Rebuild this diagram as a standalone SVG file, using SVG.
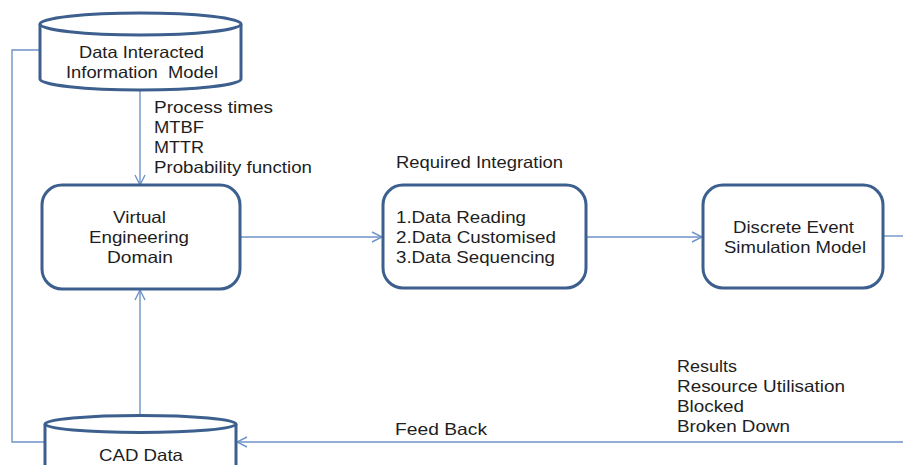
<svg xmlns="http://www.w3.org/2000/svg" width="903" height="465" viewBox="0 0 903 465">
  <style>
    .node { fill: #ffffff; stroke: #3c5f8e; stroke-width: 3; }
    .conn { fill: none; stroke: #6f93c8; stroke-width: 1.4; }
    .lbl { font-family: "Liberation Sans", Arial, sans-serif; font-size: 16.5px; fill: #1e1e1e; }
    .mid { text-anchor: middle; }
  </style>
  <defs>
    <marker id="arrow" viewBox="0 0 12 12" refX="11" refY="6" markerWidth="12" markerHeight="12" markerUnits="userSpaceOnUse" orient="auto">
      <path d="M1,1 L11,6 L1,11" fill="none" stroke="#6f93c8" stroke-width="1.4"/>
    </marker>
  </defs>

  <rect width="903" height="465" fill="#ffffff"/>

  <!-- connectors -->
  <g id="connectors">
    <path class="conn" d="M40,50 H12 V442 H46"/>
    <path class="conn" d="M140,91 V185" marker-end="url(#arrow)"/>
    <path class="conn" d="M240,237 H382" marker-end="url(#arrow)"/>
    <path class="conn" d="M587,237 H702" marker-end="url(#arrow)"/>
    <path class="conn" d="M883,236 H903"/>
    <path class="conn" d="M903,442 H237" marker-end="url(#arrow)"/>
    <path class="conn" d="M140,415 V290" marker-end="url(#arrow)"/>
  </g>

  <!-- data interacted information model (cylinder) -->
  <g id="info-model">
    <path class="node" d="M40,24 V79 A100,11 0 0 0 241,79 V24"/>
    <ellipse class="node" cx="140.5" cy="24" rx="100.5" ry="11"/>
    <text class="lbl mid" x="141.5" y="58" textLength="125" lengthAdjust="spacingAndGlyphs">Data Interacted</text>
    <text class="lbl mid" x="142" y="78" textLength="152" lengthAdjust="spacingAndGlyphs" xml:space="preserve">Information  Model</text>
  </g>

  <!-- parameters passed down -->
  <g id="params">
    <text class="lbl" x="154" y="113" textLength="119" lengthAdjust="spacingAndGlyphs">Process times</text>
    <text class="lbl" x="154" y="133" textLength="50" lengthAdjust="spacingAndGlyphs">MTBF</text>
    <text class="lbl" x="154" y="153" textLength="50" lengthAdjust="spacingAndGlyphs">MTTR</text>
    <text class="lbl" x="154" y="173" textLength="158" lengthAdjust="spacingAndGlyphs">Probability function</text>
  </g>

  <!-- virtual engineering domain -->
  <g id="ved">
    <rect class="node" x="42" y="185" width="198" height="104" rx="20" ry="20"/>
    <text class="lbl mid" x="139.5" y="223" textLength="53" lengthAdjust="spacingAndGlyphs">Virtual</text>
    <text class="lbl mid" x="139" y="243" textLength="100" lengthAdjust="spacingAndGlyphs">Engineering</text>
    <text class="lbl mid" x="140" y="263" textLength="66" lengthAdjust="spacingAndGlyphs">Domain</text>
  </g>

  <!-- required integration -->
  <g id="integration">
    <text class="lbl" x="396" y="168" textLength="167" lengthAdjust="spacingAndGlyphs">Required Integration</text>
    <rect class="node" x="383" y="185" width="203" height="103" rx="20" ry="20"/>
    <text class="lbl" x="396" y="223" textLength="130" lengthAdjust="spacingAndGlyphs">1.Data Reading</text>
    <text class="lbl" x="396" y="243" textLength="160" lengthAdjust="spacingAndGlyphs">2.Data Customised</text>
    <text class="lbl" x="396" y="263" textLength="159" lengthAdjust="spacingAndGlyphs">3.Data Sequencing</text>
  </g>

  <!-- discrete event simulation model -->
  <g id="des">
    <rect class="node" x="703" y="185" width="180" height="103" rx="20" ry="20"/>
    <text class="lbl mid" x="793.5" y="233" textLength="121" lengthAdjust="spacingAndGlyphs">Discrete Event</text>
    <text class="lbl mid" x="795" y="253" textLength="142" lengthAdjust="spacingAndGlyphs">Simulation Model</text>
  </g>

  <!-- results fed back -->
  <g id="results">
    <text class="lbl" x="677" y="372" textLength="60" lengthAdjust="spacingAndGlyphs">Results</text>
    <text class="lbl" x="677" y="392" textLength="168" lengthAdjust="spacingAndGlyphs">Resource Utilisation</text>
    <text class="lbl" x="677" y="412" textLength="67" lengthAdjust="spacingAndGlyphs">Blocked</text>
    <text class="lbl" x="677" y="432" textLength="113" lengthAdjust="spacingAndGlyphs">Broken Down</text>
    <text class="lbl" x="395" y="435" textLength="92" lengthAdjust="spacingAndGlyphs">Feed Back</text>
  </g>

  <!-- CAD data (cylinder, cut off at the bottom) -->
  <g id="cad-data">
    <path class="node" d="M45,424 V475 H236 V424"/>
    <ellipse class="node" cx="140.5" cy="424" rx="95.5" ry="8.5"/>
    <text class="lbl mid" x="141" y="461" textLength="84" lengthAdjust="spacingAndGlyphs">CAD Data</text>
  </g>
</svg>
